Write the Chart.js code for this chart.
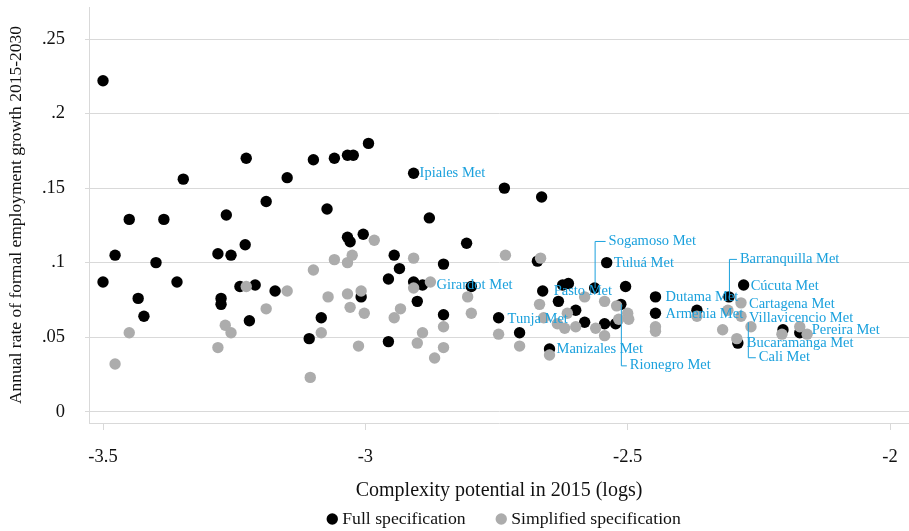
<!DOCTYPE html>
<html>
<head>
<meta charset="utf-8">
<script src="https://cdn.jsdelivr.net/npm/chart.js@4.4.1/dist/chart.umd.min.js"></script>
<style>
  html, body { margin: 0; padding: 0; background: #fff; }
  #wrap { width: 909px; height: 531px; }
</style>
</head>
<body>
<div id="wrap"><canvas id="chart"></canvas></div>
<script>
// Full specification (black)
const fullX = [-3.500, -3.500, -3.477, -3.450, -3.433, -3.422, -3.399, -3.384, -3.359, -3.347,
  -3.281, -3.265, -3.275, -3.275, -3.256, -3.229, -3.227, -3.239, -3.210, -3.221,
  -3.189, -3.172, -3.149, -3.099, -3.107, -3.084, -3.073, -3.059, -3.034, -3.023,
  -2.994, -3.034, -3.029, -3.004, -3.008, -2.945, -2.935, -2.956, -2.956, -2.908,
  -2.878, -2.851, -2.908, -2.891, -2.901, -2.851, -2.798, -2.807, -2.735, -2.664,
  -2.672, -2.662, -2.632, -2.624, -2.613, -2.599, -2.582, -2.544, -2.523, -2.513,
  -2.563, -2.540, -2.504, -2.746, -2.706, -2.649, -2.447, -2.447, -2.368, -2.307,
  -2.279, -2.290, -2.204, -2.172];
const fullY = [0.222, 0.087, 0.105, 0.129, 0.076, 0.064, 0.100, 0.129, 0.087, 0.156,
  0.106, 0.132, 0.076, 0.072, 0.105, 0.112, 0.170, 0.084, 0.085, 0.061,
  0.141, 0.081, 0.157, 0.169, 0.049, 0.063, 0.136, 0.170, 0.172, 0.172,
  0.180, 0.117, 0.114, 0.119, 0.077, 0.105, 0.096, 0.089, 0.047, 0.160,
  0.130, 0.099, 0.087, 0.085, 0.074, 0.065, 0.084, 0.113, 0.150, 0.144,
  0.101, 0.081, 0.074, 0.085, 0.086, 0.068, 0.060, 0.059, 0.059, 0.072,
  0.083, 0.100, 0.084, 0.063, 0.053, 0.042, 0.077, 0.066, 0.068, 0.077,
  0.085, 0.046, 0.055, 0.053];

// Simplified specification (grey)
const simpX = [-3.477, -3.450, -3.281, -3.267, -3.256, -3.227, -3.189, -3.149, -3.105, -3.099,
  -3.084, -3.071, -3.059, -3.034, -3.025, -3.034, -3.029, -3.013, -3.008, -3.002,
  -2.983, -2.945, -2.933, -2.908, -2.908, -2.901, -2.891, -2.876, -2.868, -2.851,
  -2.851, -2.805, -2.798, -2.746, -2.733, -2.706, -2.666, -2.668, -2.660, -2.649,
  -2.634, -2.620, -2.615, -2.599, -2.582, -2.561, -2.544, -2.544, -2.521, -2.517,
  -2.500, -2.498, -2.447, -2.447, -2.368, -2.319, -2.309, -2.284, -2.284, -2.265,
  -2.292, -2.206, -2.172, -2.158];
const simpY = [0.032, 0.053, 0.043, 0.058, 0.053, 0.084, 0.069, 0.081, 0.023, 0.095,
  0.053, 0.077, 0.102, 0.100, 0.105, 0.079, 0.070, 0.044, 0.081, 0.066,
  0.115, 0.063, 0.069, 0.103, 0.083, 0.046, 0.053, 0.087, 0.036, 0.057,
  0.043, 0.077, 0.066, 0.052, 0.105, 0.044, 0.103, 0.072, 0.063, 0.038,
  0.059, 0.056, 0.066, 0.057, 0.077, 0.056, 0.074, 0.051, 0.071, 0.062,
  0.066, 0.062, 0.057, 0.054, 0.064, 0.055, 0.068, 0.073, 0.064, 0.057,
  0.049, 0.052, 0.057, 0.052];

// labelled cities (anchor point)
const labelNames = ['Ipiales Met', 'Sogamoso Met', 'Tuluá Met', 'Girardot Met', 'Pasto Met',
  'Tunja Met', 'Manizales Met', 'Rionegro Met', 'Dutama Met', 'Armenia Met',
  'Barranquilla Met', 'Cúcuta Met', 'Cartagena Met', 'Villavicencio Met', 'Pereira Met',
  'Bucaramanga Met', 'Cali Met'];
const labelX = [-2.908, -2.563, -2.540, -2.891, -2.662, -2.746, -2.649, -2.513, -2.447, -2.447,
  -2.307, -2.279, -2.284, -2.284, -2.172, -2.290, -2.271];
const labelY = [0.160, 0.083, 0.100, 0.085, 0.081, 0.063, 0.042, 0.072, 0.077, 0.066,
  0.077, 0.085, 0.073, 0.064, 0.053, 0.046, 0.060];

const xTicks = [-3.5, -3, -2.5, -2];
const xTickLabels = ['-3.5', '-3', '-2.5', '-2'];
const yTicks = [0, 0.05, 0.1, 0.15, 0.2, 0.25];
const yTickLabels = ['0', '.05', '.1', '.15', '.2', '.25'];

// label placement: [dx, dy, leader]
const labelOffsets = [[6, 0], [14, -47, true], [7, 1], [14, 0], [11, 0],
  [9, 1], [7, 0], [9, 61, true], [10, 0], [10, 1],
  [11, -38, true], [7, 1], [8, 1], [8, 2], [12, -2],
  [9, 0], [11, 35, true]];

const FONT = "'Liberation Serif', 'Times New Roman', serif";
const LABEL_BLUE = '#1ba1dd';
const GRID = '#d9d9d9';
const TEXT = '#111111';

const toPoints = (xs, ys) => xs.map((x, i) => ({ x, y: ys[i] }));

const cityLabels = {
  id: 'cityLabels',
  afterDatasetsDraw(chart) {
    const { ctx, scales: { x, y } } = chart;
    ctx.save();
    ctx.font = '14.5px ' + FONT;
    ctx.fillStyle = LABEL_BLUE;
    ctx.strokeStyle = LABEL_BLUE;
    ctx.lineWidth = 1;
    ctx.textAlign = 'left';
    ctx.textBaseline = 'middle';
    labelNames.forEach((name, i) => {
      const px = x.getPixelForValue(labelX[i]);
      const py = y.getPixelForValue(labelY[i]);
      const [dx, dy, leader] = labelOffsets[i];
      if (leader) {
        ctx.beginPath();
        ctx.moveTo(px + 0.5, py);
        ctx.lineTo(px + 0.5, py + dy + 0.5);
        ctx.lineTo(px + dx - 3, py + dy + 0.5);
        ctx.stroke();
      }
      ctx.fillText(name, px + dx, py + dy);
    });
    ctx.restore();
  }
};

// legend under the axis title, centred a little right of the plot centre
const bottomLegend = {
  id: 'bottomLegend',
  afterDraw(chart) {
    const { ctx, chartArea } = chart;
    const r = 5.7, gap = 10, spacing = 30, y = 519;
    ctx.save();
    ctx.font = '17.7px ' + FONT;
    ctx.textBaseline = 'middle';
    ctx.textAlign = 'left';
    const items = chart.data.datasets.map(ds => ({
      text: ds.label, color: ds.backgroundColor, w: ctx.measureText(ds.label).width
    }));
    const total = items.reduce((s, it) => s + r + gap + it.w, 0) + (spacing + r) * (items.length - 1);
    let x = (chartArea.left + chartArea.right) / 2 + 7.5 - total / 2;
    items.forEach(it => {
      const cx = x + r;
      ctx.fillStyle = it.color;
      ctx.beginPath();
      ctx.arc(cx, y, r, 0, Math.PI * 2);
      ctx.fill();
      ctx.fillStyle = TEXT;
      ctx.fillText(it.text, cx + gap, y);
      x = cx + gap + it.w + spacing;
    });
    ctx.restore();
  }
};

const ctx = document.getElementById('chart').getContext('2d');
new Chart(ctx, {
  type: 'scatter',
  data: {
    datasets: [{
      label: 'Full specification',
      data: toPoints(fullX, fullY),
      backgroundColor: '#000000',
      borderWidth: 0,
      pointRadius: 5.7,
      order: 1
    }, {
      label: 'Simplified specification',
      data: toPoints(simpX, simpY),
      backgroundColor: '#acacac',
      borderWidth: 0,
      pointRadius: 5.7,
      order: 0
    }]
  },
  options: {
    responsive: true,
    maintainAspectRatio: false,
    animation: false,
    layout: { autoPadding: false, padding: { top: 7, right: 0, bottom: 30.5, left: 0 } },
    plugins: {
      tooltip: { enabled: false },
      legend: { display: false }
    },
    scales: {
      x: {
        type: 'linear',
        min: -3.5267,
        max: -1.9638,
        afterBuildTicks: s => { s.ticks = xTicks.map(v => ({ value: v })); },
        afterFit: s => {
          s.height = 77.5;
          s.paddingLeft = 0;
          s.paddingRight = 0;
        },
        ticks: {
          color: TEXT,
          padding: 16,
          font: { family: FONT, size: 18.5 },
          callback: v => xTickLabels[xTicks.indexOf(v)]
        },
        grid: { drawOnChartArea: false, drawTicks: true, tickLength: 7, color: GRID },
        border: { display: true, color: GRID },
        title: {
          display: true,
          text: 'Complexity potential in 2015 (logs)',
          color: TEXT,
          font: { family: FONT, size: 20 },
          padding: { top: 0, bottom: -2 }
        }
      },
      y: {
        type: 'linear',
        min: -0.0076,
        max: 0.2715,
        afterBuildTicks: s => { s.ticks = yTicks.map(v => ({ value: v })); },
        afterFit: s => {
          s.width = 89;
          s.paddingTop = 0;
          s.paddingBottom = 0;
        },
        ticks: {
          color: TEXT,
          padding: 20,
          font: { family: FONT, size: 18.5 },
          callback: v => yTickLabels[yTicks.indexOf(v)]
        },
        grid: { drawTicks: true, tickLength: 4, color: GRID },
        border: { display: true, color: GRID },
        title: {
          display: true,
          text: 'Annual rate of formal employment growth 2015-2030',
          color: TEXT,
          font: { family: FONT, size: 17.5 },
          padding: { top: 6, bottom: 0 }
        }
      }
    }
  },
  plugins: [cityLabels, bottomLegend]
});
</script>
</body>
</html>
